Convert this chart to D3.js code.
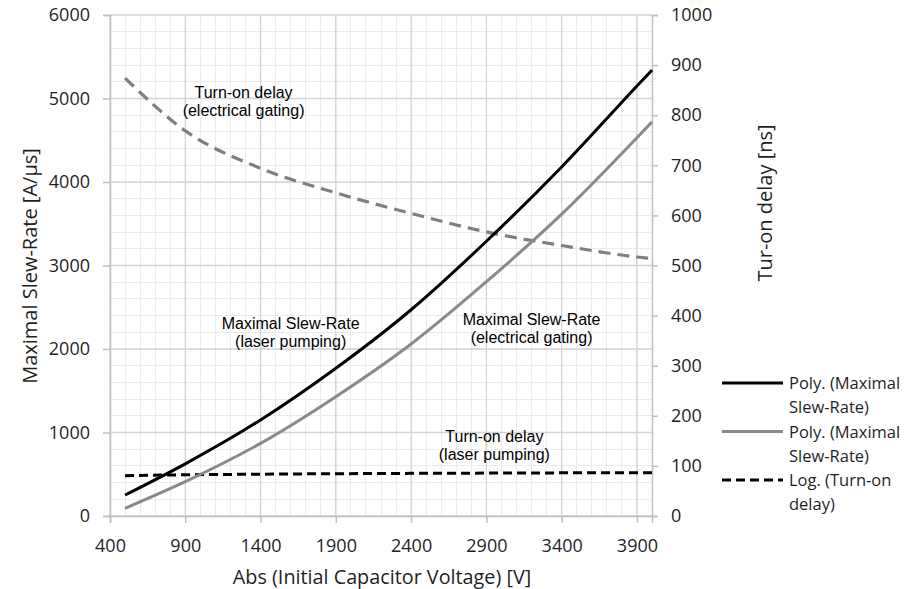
<!DOCTYPE html>
<html>
<head>
<meta charset="utf-8">
<script src="https://cdn.jsdelivr.net/npm/d3@7"></script>
<style>
  html, body { margin: 0; padding: 0; background: #fff; }
  svg { display: block; }
</style>
</head>
<body>
<svg id="chart" width="906" height="589"></svg>
<script>
// ---- data ----
const voltage    = [500, 900, 1400, 1900, 2400, 2900, 3400, 3900, 4000];
const slewLaser  = [251, 625, 1150, 1769, 2470, 3290, 4180, 5150, 5341];   // A/µs
const slewElec   = [92, 411, 870, 1429, 2060, 2806, 3615, 4530, 4720];     // A/µs
const delayElec  = [874, 769, 694, 645, 604, 567, 540, 517, 514];          // ns
const delayLaser = [80.5, 82.2, 83.5, 84.4, 85.1, 85.6, 86.1, 86.4, 86.5]; // ns

const xTicks = [400, 900, 1400, 1900, 2400, 2900, 3400, 3900];
const yLeftTicks = [0, 1000, 2000, 3000, 4000, 5000, 6000];
const yRightTicks = [0, 100, 200, 300, 400, 500, 600, 700, 800, 900, 1000];

const annotations = [
  { lines: ["Turn-on delay", "(electrical gating)"], x: 1287, y: 5006 },
  { lines: ["Maximal Slew-Rate", "(laser pumping)"], x: 1600, y: 2240 },
  { lines: ["Maximal Slew-Rate", "(electrical gating)"], x: 3200, y: 2287 },
  { lines: ["Turn-on delay", "(laser pumping)"], x: 2953, y: 886 }
];

const legendItems = [
  { lines: ["Poly. (Maximal", "Slew-Rate)"], color: "#000", dash: null },
  { lines: ["Poly. (Maximal", "Slew-Rate)"], color: "#8a8a8a", dash: null },
  { lines: ["Log. (Turn-on", "delay)"], color: "#000", dash: "9,5" }
];

// ---- layout ----
const svg = d3.select("#chart");
const L = 110, R = 652, T = 15, B = 516;
const x = d3.scaleLinear().domain([400, 4000]).range([L, R]);
const yL = d3.scaleLinear().domain([0, 6000]).range([B, T]);
const yR = d3.scaleLinear().domain([0, 1000]).range([B, T]);

const tickFont = "'Open Sans', sans-serif";
const tickColor = "#1f1f1f";
const fmt = d3.format("d");

// minor grid
const g = svg.append("g");
g.selectAll("line.vminor").data(d3.range(400, 4001, 100))
  .join("line").attr("x1", d => x(d)).attr("x2", d => x(d))
  .attr("y1", T).attr("y2", B).attr("stroke", "#ebebeb").attr("stroke-width", 1)
  .attr("shape-rendering", "crispEdges");
g.selectAll("line.hminor").data(d3.range(0, 6001, 200))
  .join("line").attr("x1", L).attr("x2", R)
  .attr("y1", d => yL(d)).attr("y2", d => yL(d)).attr("stroke", "#ebebeb").attr("stroke-width", 1)
  .attr("shape-rendering", "crispEdges");
// major grid
const g2 = svg.append("g");
g2.selectAll("line").data(xTicks).join("line")
  .attr("x1", d => x(d)).attr("x2", d => x(d)).attr("y1", T).attr("y2", B)
  .attr("stroke", "#d4d4d4").attr("stroke-width", 1.3);
const g3 = svg.append("g");
g3.selectAll("line").data(yLeftTicks).join("line")
  .attr("x1", L).attr("x2", R).attr("y1", d => yL(d)).attr("y2", d => yL(d))
  .attr("stroke", "#d4d4d4").attr("stroke-width", 1.3);

// axes
const axL = svg.append("g").attr("transform", `translate(${L},0)`)
  .call(d3.axisLeft(yL).tickValues(yLeftTicks).tickFormat(fmt).tickSize(7).tickPadding(13));
const axB = svg.append("g").attr("transform", `translate(0,${B})`)
  .call(d3.axisBottom(x).tickValues(xTicks).tickFormat(fmt).tickSize(7).tickPadding(13));
const axR = svg.append("g").attr("transform", `translate(${R},0)`)
  .call(d3.axisRight(yR).tickValues(yRightTicks).tickFormat(fmt).tickSize(6).tickPadding(13));
[axL, axB, axR].forEach(a => {
  a.select(".domain").attr("stroke", "#bfbfbf").attr("stroke-width", 1.5);
  a.selectAll(".tick line").attr("stroke", "#bfbfbf").attr("stroke-width", 1.5);
  a.selectAll(".tick text").attr("font-family", tickFont).attr("font-size", 18)
    .attr("fill", tickColor);
});
axB.selectAll(".tick text").attr("dy", "0.9em");

// lines
const lineL = (vals) => d3.line().x((d, i) => x(voltage[i])).y(d => yL(d)).curve(d3.curveMonotoneX)(vals);
const lineR = (vals) => d3.line().x((d, i) => x(voltage[i])).y(d => yR(d)).curve(d3.curveMonotoneX)(vals);

svg.append("path").attr("d", lineR(delayElec)).attr("fill", "none")
  .attr("stroke", "#7f7f7f").attr("stroke-width", 3.2).attr("stroke-dasharray", "12,7");
svg.append("path").attr("d", lineR(delayLaser)).attr("fill", "none")
  .attr("stroke", "#000").attr("stroke-width", 3).attr("stroke-dasharray", "9,5");
svg.append("path").attr("d", lineL(slewElec)).attr("fill", "none")
  .attr("stroke", "#8a8a8a").attr("stroke-width", 3);
svg.append("path").attr("d", lineL(slewLaser)).attr("fill", "none")
  .attr("stroke", "#000").attr("stroke-width", 3);

// annotations
annotations.forEach(a => {
  const t = svg.append("text").attr("text-anchor", "middle")
    .attr("font-family", "'Liberation Sans', Arial, sans-serif").attr("font-size", 16)
    .attr("fill", "#000");
  a.lines.forEach((ln, i) => {
    t.append("tspan").attr("x", x(a.x)).attr("y", yL(a.y) + i * 18).text(ln);
  });
});

// axis titles
svg.append("text").attr("x", 382).attr("y", 584).attr("text-anchor", "middle")
  .attr("font-family", tickFont).attr("font-size", 19.8).attr("fill", tickColor)
  .text("Abs (Initial Capacitor Voltage) [V]");
svg.append("text").attr("transform", "translate(37,266) rotate(-90)").attr("text-anchor", "middle")
  .attr("font-family", tickFont).attr("font-size", 20).attr("fill", tickColor)
  .text("Maximal Slew-Rate [A/µs]");
svg.append("text").attr("transform", "translate(772,203) rotate(-90)").attr("text-anchor", "middle")
  .attr("font-family", tickFont).attr("font-size", 20).attr("fill", tickColor)
  .text("Tur-on delay [ns]");

// legend
legendItems.forEach((it, i) => {
  const y0 = 383 + i * 48.5;
  svg.append("line").attr("x1", 722).attr("x2", 783).attr("y1", y0).attr("y2", y0)
    .attr("stroke", it.color).attr("stroke-width", 3)
    .attr("stroke-dasharray", it.dash);
  const t = svg.append("text").attr("font-family", tickFont).attr("font-size", 16.5)
    .attr("fill", tickColor);
  it.lines.forEach((ln, j) => {
    t.append("tspan").attr("x", 789).attr("y", y0 + 6 + j * 24).text(ln);
  });
});
</script>
</body>
</html>
